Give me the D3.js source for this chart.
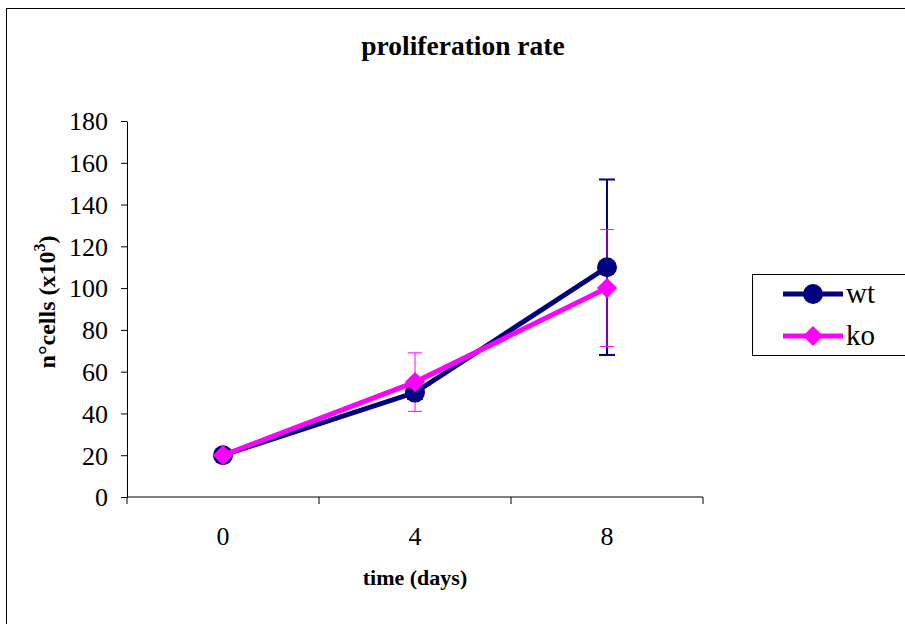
<!DOCTYPE html>
<html lang="en">
<head>
    <meta charset="UTF-8">
    <title>proliferation rate</title>
    <script src="https://d3js.org/d3.v7.min.js"></script>
    <style>
        body {margin: 0; background: #fff;}
        svg text {font-family: "Liberation Serif", "Times New Roman", serif; fill: #000;}
        .axis path, .axis line {stroke: #000; stroke-width: 1px;}
    </style>
</head>
<body>
<script>
    const width  = 905;
    const height = 624;
    const serif = "'Liberation Serif', 'Times New Roman', serif";

    const days  = ["0", "4", "8"];
    const wt    = [20, 50, 110];
    const wtErr = [0, 3, 42];
    const ko    = [20, 55, 100];
    const koErr = [0, 14, 28];
    const yTicks = [0, 20, 40, 60, 80, 100, 120, 140, 160, 180];

    const series = [
        {name: "wt", values: wt, err: wtErr, color: "#000080", marker: "circle", errWidth: 2, cap: 8},
        {name: "ko", values: ko, err: koErr, color: "#FF00FF", marker: "diamond", errWidth: 1, cap: 7}
    ];

    const plot = {left: 127, right: 703, top: 121, bottom: 497};

    const scaleX = d3.scaleBand()
            .domain(days)
            .range([plot.left, plot.right]);

    const scaleY = d3.scaleLinear()
            .domain([0, 180])
            .range([plot.bottom, plot.top]);

    const svg = d3.select("body").append("svg").attr("width", width).attr("height", height);

    // outer chart border (runs off right/bottom edges)
    svg.append("rect")
        .attr("x", 6.5).attr("y", 8.5)
        .attr("width", 1000).attr("height", 1000)
        .attr("fill", "none").attr("stroke", "#000").attr("stroke-width", 1);

    svg.append("text")
        .attr("x", 463).attr("y", 55)
        .attr("text-anchor", "middle")
        .style("font-family", serif)
        .style("font-size", "27.5px").style("font-weight", "bold")
        .text("proliferation rate");

    // axes
    const xAxis = d3.axisBottom(scaleX).tickSize(0).tickPadding(0);
    const gx = svg.append("g").attr("class", "axis")
        .attr("transform", "translate(0," + plot.bottom + ")")
        .call(xAxis);
    gx.select(".domain").attr("d", "M" + plot.left + ",0H" + plot.right);
    // tick marks between categories
    const bounds = days.map(d => scaleX(d)).concat([plot.right]);
    gx.selectAll(".sep").data(bounds).join("line")
        .attr("class", "sep")
        .attr("x1", d => d).attr("x2", d => d)
        .attr("y1", 0).attr("y2", 7)
        .attr("stroke", "#000");
    gx.selectAll(".tick text")
        .attr("y", 48).attr("dy", null)
        .style("font-family", serif).style("font-size", "26px");

    const yAxis = d3.axisLeft(scaleY).tickValues(yTicks).tickSize(6).tickSizeOuter(0).tickPadding(8);
    const gy = svg.append("g").attr("class", "axis")
        .attr("transform", "translate(" + plot.left + ",0)")
        .call(yAxis);
    gy.selectAll(".tick text")
        .attr("x", -19).attr("dy", "0.34em")
        .style("font-family", serif).style("font-size", "26px");

    svg.append("text")
        .attr("x", 415).attr("y", 585)
        .attr("text-anchor", "middle")
        .style("font-family", serif)
        .style("font-size", "22px").style("font-weight", "bold")
        .text("time (days)");

    const yLab = svg.append("text")
        .attr("transform", "translate(55,302) rotate(-90)")
        .attr("text-anchor", "middle")
        .style("font-family", serif)
        .style("font-size", "24px").style("font-weight", "bold");
    yLab.append("tspan").text("n°cells (x10");
    yLab.append("tspan").attr("dy", -10).style("font-size", "16px").text("3");
    yLab.append("tspan").attr("dy", 10).text(")");

    const cx = d => scaleX(d) + scaleX.bandwidth() / 2;

    const line = d3.line()
        .x((v, i) => cx(days[i]))
        .y(v => scaleY(v));

    const diamond = d3.symbol().type(d3.symbolDiamond2).size(260);

    function drawMarker(g, s, x, y) {
        if (s.marker === "circle") {
            g.append("circle").attr("cx", x).attr("cy", y).attr("r", 10).attr("fill", s.color);
        } else {
            g.append("path").attr("d", diamond()).attr("transform", "translate(" + x + "," + y + ")")
                .attr("fill", s.color);
        }
    }

    // error bars
    series.forEach(s => {
        const g = svg.append("g");
        s.values.forEach((v, i) => {
            if (!s.err[i]) return;
            const x = cx(days[i]);
            const y0 = scaleY(v - s.err[i]), y1 = scaleY(v + s.err[i]);
            g.append("line").attr("x1", x).attr("x2", x).attr("y1", y0).attr("y2", y1)
                .attr("stroke", s.color).attr("stroke-width", s.errWidth);
            [y0, y1].forEach(y => g.append("line")
                .attr("x1", x - s.cap).attr("x2", x + s.cap).attr("y1", y).attr("y2", y)
                .attr("stroke", s.color).attr("stroke-width", s.errWidth));
        });
    });

    // lines and markers
    series.forEach(s => {
        const g = svg.append("g");
        g.append("path").attr("d", line(s.values))
            .attr("fill", "none").attr("stroke", s.color).attr("stroke-width", 5);
        s.values.forEach((v, i) => drawMarker(g, s, cx(days[i]), scaleY(v)));
    });

    // legend
    const legend = svg.append("g");
    legend.append("rect")
        .attr("x", 752.5).attr("y", 274.5).attr("width", 200).attr("height", 81)
        .attr("fill", "#fff").attr("stroke", "#000");
    series.forEach((s, i) => {
        const y = 294 + i * 42;
        legend.append("line").attr("x1", 783).attr("x2", 843).attr("y1", y).attr("y2", y)
            .attr("stroke", s.color).attr("stroke-width", 5);
        drawMarker(legend, s, 813, y);
        legend.append("text").attr("x", 846).attr("y", y + 9)
            .style("font-family", serif)
            .style("font-size", "29px").text(s.name);
    });
</script>
</body>
</html>
